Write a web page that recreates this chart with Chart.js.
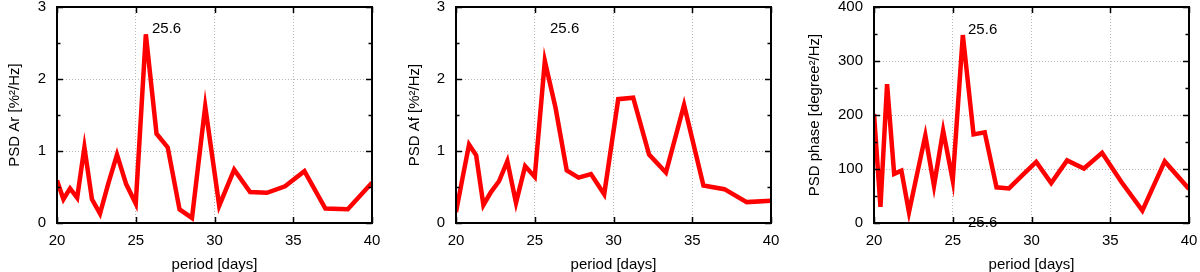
<!DOCTYPE html>
<html>
<head>
<meta charset="utf-8">
<script src="https://cdn.jsdelivr.net/npm/chart.js@4/dist/chart.umd.min.js"></script>
<style>
  html, body { margin: 0; padding: 0; background: #fff; }
  .row { display: flex; width: 1200px; height: 272px; }
  canvas { display: block; }
</style>
</head>
<body>
<div class="row">
  <canvas id="chartAr" width="400" height="272"></canvas>
  <canvas id="chartAf" width="400" height="272"></canvas>
  <canvas id="chartPhase" width="400" height="272"></canvas>
</div>
<script>
// Data
const periods = [20, 20.41, 20.83, 21.28, 21.74, 22.22, 22.73, 23.26, 23.81, 24.39, 25,
  25.64, 26.32, 27.03, 27.78, 28.57, 29.41, 30.30, 31.25, 32.26, 33.33, 34.48,
  35.71, 37.04, 38.46, 40];
const psdAr = [0.59, 0.33, 0.48, 0.35, 1.05, 0.33, 0.13, 0.55, 0.95, 0.54, 0.27,
  2.62, 1.24, 1.05, 0.19, 0.07, 1.62, 0.24, 0.74, 0.43, 0.42, 0.51,
  0.72, 0.20, 0.19, 0.56];
const psdAf = [0.15, 0.62, 1.09, 0.94, 0.25, 0.43, 0.58, 0.86, 0.28, 0.79, 0.64,
  2.25, 1.60, 0.73, 0.63, 0.68, 0.40, 1.72, 1.74, 0.95, 0.70, 1.64,
  0.52, 0.47, 0.29, 0.31];
const psdPhase = [202, 30, 257, 91, 97, 20, 90, 162, 69, 171, 79,
  348, 164, 168, 66, 64, 88, 113, 74, 116, 101, 130,
  76, 23, 114, 63];
const xTicks = [20, 25, 30, 35, 40];
const peakLabel = '25.6';

const FONT = 'Liberation Sans, Arial, Helvetica, sans-serif';

// gnuplot-like frame with inward ticks, plus text labels
const framePlugin = {
  id: 'frame',
  afterDatasetsDraw(chart, args, opts) {
    const { ctx, chartArea: a, scales: { x, y } } = chart;
    ctx.save();
    ctx.fillStyle = '#000';
    ctx.font = '15px ' + FONT;
    ctx.textAlign = 'left';
    ctx.textBaseline = 'middle';
    (opts.labels || []).forEach(l => {
      ctx.fillText(l.text, x.getPixelForValue(l.x), y.getPixelForValue(l.y));
    });
    ctx.strokeStyle = '#000';
    ctx.lineWidth = 1.5;
    ctx.beginPath();
    xTicks.forEach(v => {
      const px = Math.round(x.getPixelForValue(v)) + 0.5;
      ctx.moveTo(px, a.bottom); ctx.lineTo(px, a.bottom - 6);
      ctx.moveTo(px, a.top); ctx.lineTo(px, a.top + 6);
    });
    for (let v = y.min; v <= y.max + 1e-9; v += opts.minorStep) {
      const py = Math.round(y.getPixelForValue(v)) + 0.5;
      const major = Math.abs(v / opts.majorStep - Math.round(v / opts.majorStep)) < 1e-6;
      const len = major ? 6 : 3.5;
      ctx.moveTo(a.left, py); ctx.lineTo(a.left + len, py);
      ctx.moveTo(a.right, py); ctx.lineTo(a.right - len, py);
    }
    ctx.stroke();
    ctx.lineWidth = 2;
    ctx.strokeRect(a.left, a.top, a.right - a.left, a.bottom - a.top);
    ctx.restore();
  }
};

function makeChart(id, values, cfg) {
  return new Chart(document.getElementById(id), {
    type: 'line',
    data: {
      datasets: [{
        data: periods.map((p, i) => ({ x: p, y: values[i] })),
        borderColor: '#ff0000',
        borderWidth: 4.5,
        pointRadius: 0,
        tension: 0,
        borderJoinStyle: 'miter',
        fill: false
      }]
    },
    options: {
      responsive: false,
      animation: false,
      layout: { padding: { top: 7, right: cfg.padRight, bottom: 0, left: 0 } },
      plugins: {
        legend: { display: false },
        tooltip: { enabled: false },
        frame: { labels: cfg.labels, majorStep: cfg.majorStep, minorStep: cfg.minorStep }
      },
      scales: {
        x: {
          type: 'linear',
          min: 20, max: 40,
          afterBuildTicks: s => { s.ticks = xTicks.map(v => ({ value: v })); },
          afterFit: s => { s.height = 49; s.paddingLeft = 0; s.paddingRight = 0; },
          grid: { color: '#b8b8b8', drawTicks: false, lineWidth: 1 },
          border: { display: false, dash: [1, 2] },
          ticks: { color: '#000', padding: 9, font: { size: 15, family: FONT }, maxRotation: 0 },
          title: { display: true, text: 'period [days]', color: '#000',
            font: { size: 15, family: FONT }, padding: { top: -2, bottom: -2 } }
        },
        y: {
          min: 0, max: cfg.yMax,
          afterFit: s => { s.width = cfg.left; s.paddingTop = 0; s.paddingBottom = 0; },
          grid: { color: '#b8b8b8', drawTicks: false, lineWidth: 1 },
          border: { display: false, dash: [1, 2] },
          ticks: { color: '#000', padding: 11, stepSize: cfg.majorStep,
            font: { size: 15, family: FONT } },
          title: { display: true, text: cfg.yTitle, color: '#000',
            font: { size: 15, family: FONT }, padding: { top: 6, bottom: 0 } }
        }
      }
    },
    plugins: [framePlugin]
  });
}

makeChart('chartAr', psdAr, {
  yTitle: 'PSD Ar [%²/Hz]', yMax: 3, majorStep: 1, minorStep: 0.5,
  left: 57, padRight: 28,
  labels: [{ text: peakLabel, x: 26.03, y: 2.69 }]
});
makeChart('chartAf', psdAf, {
  yTitle: 'PSD Af [%²/Hz]', yMax: 3, majorStep: 1, minorStep: 0.5,
  left: 56, padRight: 29,
  labels: [{ text: peakLabel, x: 25.97, y: 2.69 }]
});
makeChart('chartPhase', psdPhase, {
  yTitle: 'PSD phase [degree²/Hz]', yMax: 400, majorStep: 100, minorStep: 50,
  left: 74, padRight: 11,
  labels: [{ text: peakLabel, x: 25.97, y: 357 }, { text: peakLabel, x: 25.97, y: 1 }]
});
</script>
</body>
</html>
